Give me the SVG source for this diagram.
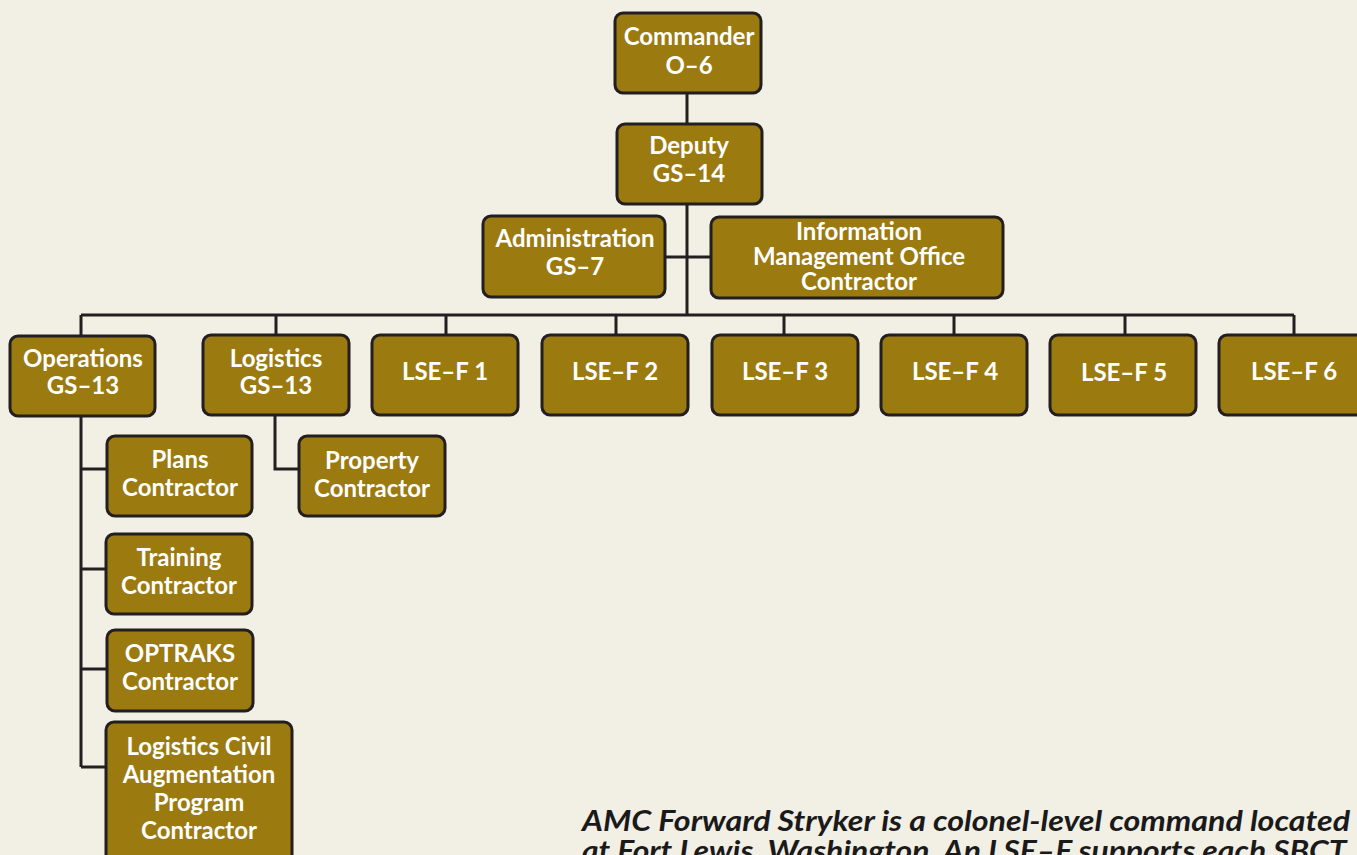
<svg xmlns="http://www.w3.org/2000/svg" width="1357" height="855" viewBox="0 0 1357 855">
<style>
.box{fill:#9b7a0f;stroke:#231f20;stroke-width:3}
.t{font-family:Lato,"Open Sans","Liberation Sans",sans-serif;font-weight:bold;font-size:24px;fill:#ffffff;text-anchor:middle}
.c{fill:none;stroke:#231f20;stroke-width:3}
.cap{font-family:Lato,"Liberation Sans",sans-serif;font-weight:bold;font-style:italic;font-size:28px;fill:#1a1a1a}
</style>
<rect width="1357" height="855" fill="#f2efe5"/>
<g id="connectors" class="c">
<path d="M687 93V315"/>
<path d="M665 257H711"/>
<path d="M81 315H1294"/>
<path d="M81 315V335M276 315V335M446 315V335M616 315V335M784 315V335M954 315V335M1125 315V335M1294 315V335"/>
<path d="M81 416V767"/>
<path d="M81 469H107M81 569H106M81 669H107M81 767H106"/>
<path d="M275 416V469H299"/>
</g>
<g id="commander"><rect class="box" x="615" y="13" width="146" height="80" rx="8"/><text class="t" x="689" y="45">Commander</text><text class="t" x="689" y="74">O–6</text></g>
<g id="deputy"><rect class="box" x="617" y="124" width="145" height="80" rx="8"/><text class="t" x="689" y="154">Deputy</text><text class="t" x="689" y="182">GS–14</text></g>
<g id="administration"><rect class="box" x="483" y="216" width="182" height="81" rx="8"/><text class="t" x="575" y="247">Administration</text><text class="t" x="575" y="275">GS–7</text></g>
<g id="imo"><rect class="box" x="711" y="217" width="292" height="81" rx="8"/><text class="t" x="859" y="240">Information</text><text class="t" x="859" y="265">Management Office</text><text class="t" x="859" y="290">Contractor</text></g>
<g id="operations"><rect class="box" x="10" y="336" width="145" height="80" rx="8"/><text class="t" x="83" y="367">Operations</text><text class="t" x="83" y="394">GS–13</text></g>
<g id="logistics"><rect class="box" x="203" y="335" width="146" height="80" rx="8"/><text class="t" x="276" y="367">Logistics</text><text class="t" x="276" y="394">GS–13</text></g>
<g id="lsef1"><rect class="box" x="372" y="335" width="146" height="80" rx="8"/><text class="t" x="445" y="380">LSE–F 1</text></g>
<g id="lsef2"><rect class="box" x="542" y="335" width="146" height="80" rx="8"/><text class="t" x="615" y="380">LSE–F 2</text></g>
<g id="lsef3"><rect class="box" x="712" y="335" width="146" height="80" rx="8"/><text class="t" x="785" y="380">LSE–F 3</text></g>
<g id="lsef4"><rect class="box" x="881" y="335" width="146" height="80" rx="8"/><text class="t" x="955" y="380">LSE–F 4</text></g>
<g id="lsef5"><rect class="box" x="1050" y="335" width="146" height="80" rx="8"/><text class="t" x="1124" y="381">LSE–F 5</text></g>
<g id="lsef6"><rect class="box" x="1219" y="335" width="150" height="80" rx="8"/><text class="t" x="1294" y="380">LSE–F 6</text></g>
<g id="plans"><rect class="box" x="107" y="436" width="145" height="80" rx="8"/><text class="t" x="180" y="468">Plans</text><text class="t" x="180" y="496">Contractor</text></g>
<g id="property"><rect class="box" x="299" y="436" width="146" height="80" rx="8"/><text class="t" x="372" y="469">Property</text><text class="t" x="372" y="497">Contractor</text></g>
<g id="training"><rect class="box" x="106" y="534" width="146" height="80" rx="8"/><text class="t" x="179" y="566">Training</text><text class="t" x="179" y="594">Contractor</text></g>
<g id="optraks"><rect class="box" x="107" y="630" width="146" height="81" rx="8"/><text class="t" x="180" y="662">OPTRAKS</text><text class="t" x="180" y="690">Contractor</text></g>
<g id="logcap"><rect class="box" x="106" y="722" width="186" height="145" rx="8"/><text class="t" x="199" y="755">Logistics Civil</text><text class="t" x="199" y="783">Augmentation</text><text class="t" x="199" y="811">Program</text><text class="t" x="199" y="839">Contractor</text></g>
<g id="caption">
<text class="cap" x="582" y="831" textLength="768" lengthAdjust="spacingAndGlyphs">AMC Forward Stryker is a colonel-level command located</text>
<text class="cap" x="582" y="861" textLength="770" lengthAdjust="spacingAndGlyphs">at Fort Lewis, Washington.  An LSE–F supports each SBCT.</text>
</g>
</svg>
